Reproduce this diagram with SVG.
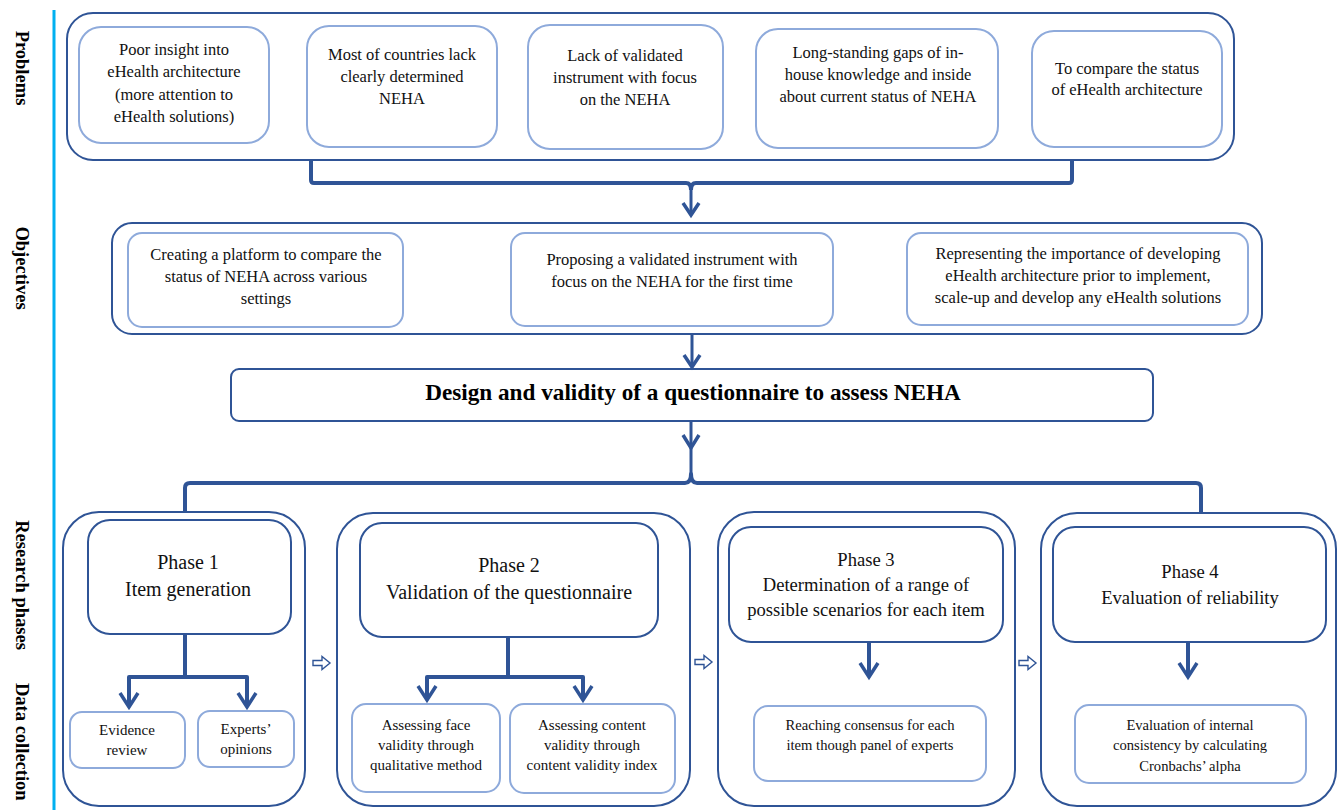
<svg xmlns="http://www.w3.org/2000/svg" width="1342" height="810" viewBox="0 0 1342 810">
<style>
.side{font-family:"Liberation Serif","Times New Roman",serif;font-weight:bold;font-size:18.5px;fill:#000}
.t15{font-family:"Liberation Serif","Times New Roman",serif;font-size:16.5px;fill:#111;text-anchor:middle}
.t14{font-family:"Liberation Serif","Times New Roman",serif;font-size:15px;fill:#111;text-anchor:middle}
.t14c{font-family:"Liberation Serif","Times New Roman",serif;font-size:14.6px;fill:#111;text-anchor:middle}
.ph{font-family:"Liberation Serif","Times New Roman",serif;font-size:20px;fill:#111;text-anchor:middle}
.phc{font-family:"Liberation Serif","Times New Roman",serif;font-size:18.6px;fill:#111;text-anchor:middle}
.main{font-family:"Liberation Serif","Times New Roman",serif;font-size:23.2px;font-weight:bold;fill:#000;text-anchor:middle}
.outer{fill:#fff;stroke:#2f5496;stroke-width:2}
.dark{fill:#fff;stroke:#2f5496;stroke-width:2}
.light{fill:#fff;stroke:#8eaadb;stroke-width:2}
.conn{fill:none;stroke:#2f5496;stroke-width:4;stroke-linejoin:round}
.thin{fill:none;stroke:#2f5496;stroke-width:3;stroke-linejoin:round}
.head{fill:none;stroke:#2f5496;stroke-width:3.5;stroke-linejoin:miter}
.hollow{fill:#fff;stroke:#2f5496;stroke-width:1.4}
</style>

<line x1="54" y1="10" x2="54" y2="810" stroke="#00b0f0" stroke-width="3"/>
<g id="side-labels">
<text class="side" transform="translate(22,68) rotate(90)" text-anchor="middle" dominant-baseline="central">Problems</text>
<text class="side" transform="translate(22,268) rotate(90)" text-anchor="middle" dominant-baseline="central">Objectives</text>
<text class="side" transform="translate(22,585) rotate(90)" text-anchor="middle" dominant-baseline="central">Research phases</text>
<text class="side" transform="translate(22,683) rotate(90)" text-anchor="start" dominant-baseline="central">Data collection</text>
</g>

<g id="problems">
<rect class="outer" x="67" y="13" width="1167" height="147" rx="26"/>
<g id="p1"><rect class="light" x="79" y="27" width="190" height="116" rx="22"/>
<text class="t15"><tspan x="174" y="55">Poor insight into</tspan><tspan x="174" y="77">eHealth architecture</tspan><tspan x="174" y="99.5">(more attention to</tspan><tspan x="174" y="122">eHealth solutions)</tspan></text></g>
<g id="p2"><rect class="light" x="307" y="26" width="190" height="121" rx="22"/>
<text class="t15"><tspan x="402" y="60">Most of countries lack</tspan><tspan x="402" y="82">clearly determined</tspan><tspan x="402" y="104">NEHA</tspan></text></g>
<g id="p3"><rect class="light" x="528" y="25" width="195" height="124" rx="22"/>
<text class="t15"><tspan x="625" y="61">Lack of validated</tspan><tspan x="625" y="83">instrument with focus</tspan><tspan x="625" y="105">on the NEHA</tspan></text></g>
<g id="p4"><rect class="light" x="756" y="29" width="242" height="119" rx="22"/>
<text class="t15"><tspan x="878" y="58">Long-standing gaps of in-</tspan><tspan x="878" y="80">house knowledge and inside</tspan><tspan x="878" y="102">about current status of NEHA</tspan></text></g>
<g id="p5"><rect class="light" x="1032" y="31" width="190" height="116" rx="22"/>
<text class="t15"><tspan x="1127" y="74">To compare the status</tspan><tspan x="1127" y="95">of eHealth architecture</tspan></text></g>
</g>

<g id="objectives">
<rect class="outer" x="112" y="223" width="1150" height="111" rx="20"/>
<g id="o1"><rect class="light" x="128" y="233" width="275" height="94" rx="14"/>
<text class="t15"><tspan x="266" y="260">Creating a platform to compare the</tspan><tspan x="266" y="282">status of NEHA across various</tspan><tspan x="266" y="304">settings</tspan></text></g>
<g id="o2"><rect class="light" x="511" y="233" width="322" height="93" rx="14"/>
<text class="t15"><tspan x="672" y="265">Proposing a validated instrument with</tspan><tspan x="672" y="287">focus on the NEHA for the first time</tspan></text></g>
<g id="o3"><rect class="light" x="907" y="233" width="341" height="92" rx="14"/>
<text class="t15"><tspan x="1078" y="259">Representing the importance of developing</tspan><tspan x="1078" y="281">eHealth architecture prior to implement,</tspan><tspan x="1078" y="303">scale-up and develop any eHealth solutions</tspan></text></g>
</g>

<g id="design">
<rect class="dark" x="231" y="369" width="922" height="52" rx="8"/>
<text class="main" x="693" y="400">Design and validity of a questionnaire to assess NEHA</text>
</g>

<g id="phase1">
<rect class="outer" x="63" y="512" width="242" height="294" rx="36"/>
<rect class="dark" x="88" y="520" width="203" height="114" rx="22"/>
<text class="ph"><tspan x="188" y="569">Phase 1</tspan><tspan x="188" y="596">Item generation</tspan></text>
<g id="evidence"><rect class="light" x="70" y="712" width="115" height="56" rx="12"/>
<text class="t14"><tspan x="127" y="735">Evidence</tspan><tspan x="127" y="755">review</tspan></text></g>
<g id="experts"><rect class="light" x="198" y="711" width="96" height="56" rx="12"/>
<text class="t14"><tspan x="246" y="734">Experts’</tspan><tspan x="246" y="754">opinions</tspan></text></g>
</g>

<g id="phase2">
<rect class="outer" x="337" y="513" width="353" height="293" rx="36"/>
<rect class="dark" x="360" y="523" width="298" height="114" rx="22"/>
<text class="ph"><tspan x="509" y="572">Phase 2</tspan><tspan x="509" y="599">Validation of the questionnaire</tspan></text>
<g id="face"><rect class="light" x="352" y="704" width="148" height="88" rx="14"/>
<text class="t14"><tspan x="426" y="730">Assessing face</tspan><tspan x="426" y="750">validity through</tspan><tspan x="426" y="770">qualitative method</tspan></text></g>
<g id="content"><rect class="light" x="510" y="704" width="165" height="89" rx="14"/>
<text class="t14"><tspan x="592" y="730">Assessing content</tspan><tspan x="592" y="750">validity through</tspan><tspan x="592" y="770">content validity index</tspan></text></g>
</g>

<g id="phase3">
<rect class="outer" x="718" y="512" width="297" height="294" rx="36"/>
<rect class="dark" x="729" y="527" width="274" height="115" rx="22"/>
<text class="phc"><tspan x="866" y="566">Phase 3</tspan><tspan x="866" y="591">Determination of a range of</tspan><tspan x="866" y="616">possible scenarios for each item</tspan></text>
<g id="consensus"><rect class="light" x="754" y="706" width="232" height="75" rx="14"/>
<text class="t14c"><tspan x="870" y="730">Reaching consensus for each</tspan><tspan x="870" y="750">item though panel of experts</tspan></text></g>
</g>

<g id="phase4">
<rect class="outer" x="1041" y="513" width="295" height="293" rx="36"/>
<rect class="dark" x="1053" y="527" width="273" height="115" rx="22"/>
<text class="phc"><tspan x="1190" y="578">Phase 4</tspan><tspan x="1190" y="604">Evaluation of reliability</tspan></text>
<g id="cronbach"><rect class="light" x="1075" y="705" width="231" height="78" rx="14"/>
<text class="t14c"><tspan x="1190" y="730">Evaluation of internal</tspan><tspan x="1190" y="750">consistency by calculating</tspan><tspan x="1190" y="771">Cronbachs’ alpha</tspan></text></g>
</g>

<g id="connectors">
<path class="conn" d="M311 160 V180 Q311 183 314 183 H686 Q691 183 691 190 M691 190 Q691 183 696 183 H1069 Q1072 183 1072 180 V160"/>
<path class="thin" d="M691 189 V215"/>
<path class="head" d="M683 203 L691 215 L699 203"/>
<path class="thin" d="M692 335 V367"/>
<path class="head" d="M684 355 L692 367 L700 355"/>
<path class="thin" d="M691 421 V474"/>
<path class="head" d="M683 435 L691 448 L699 435"/>
<path class="conn" d="M185 512 V488 Q185 483 190 483 H685 Q691 483 691 474 Q691 483 697 483 H1196 Q1201 483 1201 488 V513"/>
<path class="conn" d="M185 634 V677 M129 705 V677 H247 V705"/>
<path class="head" d="M120 693 L129 707 L138 693 M238 693 L247 707 L256 693"/>
<path class="conn" d="M508 637 V677 M427 698 V677 H583 V698"/>
<path class="head" d="M418 686 L427 700 L436 686 M574 686 L583 700 L592 686"/>
<path class="conn" d="M869 642 V675"/>
<path class="head" d="M860 663 L869 677 L878 663"/>
<path class="conn" d="M1188 642 V675"/>
<path class="head" d="M1179 663 L1188 677 L1197 663"/>
<path class="hollow" d="M313 660.5 H322 V656.5 L330 663 L322 669.5 V665.5 H313 Z"/>
<path class="hollow" d="M695 659.5 H704 V655.5 L712 662 L704 668.5 V664.5 H695 Z"/>
<path class="hollow" d="M1019 660.5 H1028 V656.5 L1036 663 L1028 669.5 V665.5 H1019 Z"/>
</g>
</svg>
